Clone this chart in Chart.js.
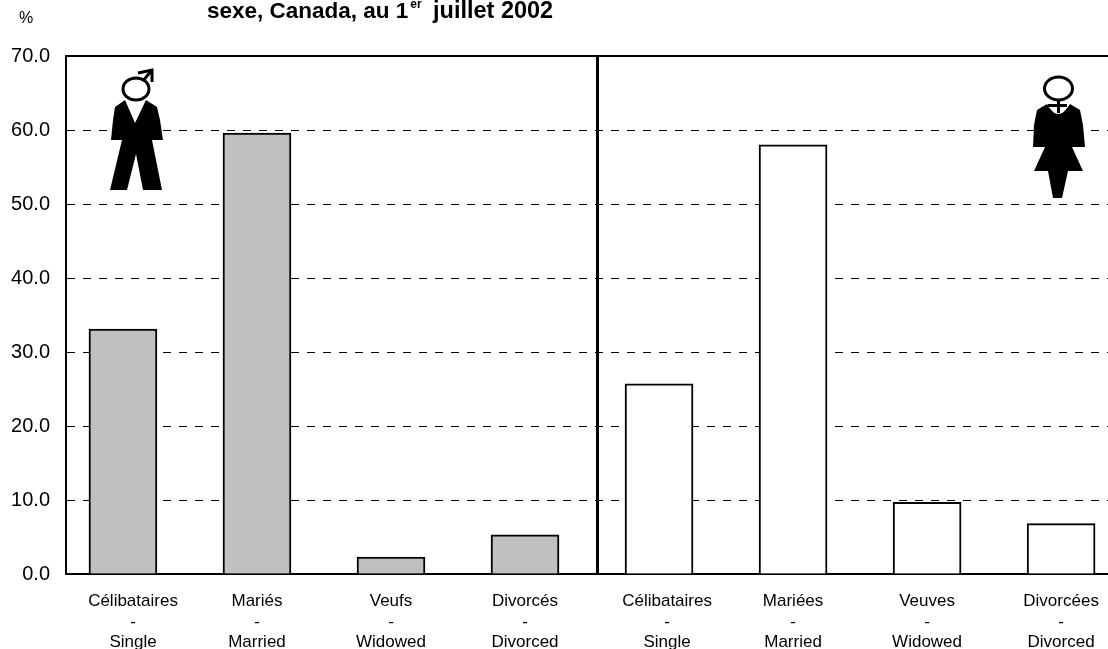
<!DOCTYPE html>
<html>
<head>
<meta charset="utf-8">
<style>
  html, body { margin: 0; padding: 0; background: #fff; overflow: hidden; }
  #box { position: relative; width: 1108px; height: 649px; }
</style>
<script src="https://cdn.jsdelivr.net/npm/chart.js@4/dist/chart.umd.min.js"></script>
</head>
<body>
<div id="box"><canvas id="chart" width="1108" height="649"></canvas></div>
<script>
const categories = [
  ["Célibataires", "-", "Single"],
  ["Mariés", "-", "Married"],
  ["Veufs", "-", "Widowed"],
  ["Divorcés", "-", "Divorced"],
  ["Célibataires", "-", "Single"],
  ["Mariées", "-", "Married"],
  ["Veuves", "-", "Widowed"],
  ["Divorcées", "-", "Divorced"],
];
const positions = [0, 1, 2, 3, 4, 5, 6, 7];
const values = [33.1, 59.6, 2.3, 5.3, 25.7, 58.0, 9.7, 6.8];
const barColors = ["#c0c0c0", "#c0c0c0", "#c0c0c0", "#c0c0c0", "#fff", "#fff", "#fff", "#fff"];
const yTicks = [0, 10, 20, 30, 40, 50, 60, 70];
// the two Célibataires labels sit a little right of their bars in the original
const labelTicks = [0.075, 1, 2, 3, 4.06, 5, 6, 7];
const FONT = "Liberation Sans";

// divider, % sign, title and the two figures
const extras = {
  id: "extras",
  afterDatasetsDraw(chart) {
    const c = chart.ctx, a = chart.chartArea;
    c.save();
    c.strokeStyle = "#000";
    c.lineWidth = 3;
    c.beginPath();
    c.moveTo(597.5, a.top);
    c.lineTo(597.5, a.bottom);
    c.stroke();

    c.fillStyle = "#000";
    c.textBaseline = "alphabetic";
    c.font = "16px '" + FONT + "'";
    c.fillText("%", 19, 23);
    c.font = "bold 22.5px '" + FONT + "'";
    c.fillText("sexe, Canada, au 1", 207, 18);
    const w = c.measureText("sexe, Canada, au 1").width;
    c.font = "bold 12px '" + FONT + "'";
    c.fillText("er", 207 + w + 2, 8);
    c.font = "bold 23.5px '" + FONT + "'";
    c.fillText("juillet 2002", 433, 18);

    man(c);
    woman(c);
    c.restore();
  },
};

function poly(c, pts) {
  c.beginPath();
  pts.forEach((p, i) => (i ? c.lineTo(p[0], p[1]) : c.moveTo(p[0], p[1])));
  c.closePath();
  c.fill();
}

function man(c) {
  c.lineWidth = 3;
  c.beginPath();
  c.ellipse(136, 89, 13, 11, 0, 0, Math.PI * 2);
  c.stroke();
  c.beginPath();
  c.moveTo(143, 81); c.lineTo(151, 71);
  c.moveTo(138, 73); c.lineTo(152, 70); c.lineTo(152, 82);
  c.stroke();
  poly(c, [[125, 100], [135, 123], [146, 100], [157, 107], [160, 120], [163, 140], [152, 140],
    [162, 190], [143, 190], [136, 154], [127, 190], [110, 190], [122, 140], [111, 140], [113, 120], [115, 107]]);
}

function woman(c) {
  c.beginPath();
  c.moveTo(1047, 104);
  c.quadraticCurveTo(1058, 124, 1070, 104);
  [[1080, 110], [1083, 125], [1085, 147], [1072, 147], [1083, 171], [1068, 171], [1062, 198], [1053, 198],
    [1048, 171], [1034, 171], [1045, 147], [1033, 147], [1034, 125], [1037, 110]].forEach((p) => c.lineTo(p[0], p[1]));
  c.closePath();
  c.fill();
  c.lineWidth = 3;
  c.beginPath();
  c.ellipse(1058.5, 88.5, 14, 11.5, 0, 0, Math.PI * 2);
  c.stroke();
  c.beginPath();
  c.moveTo(1058.5, 100); c.lineTo(1058.5, 113);
  c.moveTo(1048, 105.5); c.lineTo(1067, 105.5);
  c.stroke();
}

new Chart(document.getElementById("chart"), {
  type: "bar",
  data: {
    datasets: [{
      data: positions.map((p, i) => ({ x: p, y: values[i] })),
      backgroundColor: barColors,
      borderColor: "#000",
      borderWidth: 2,
      barThickness: 68,
    }],
  },
  plugins: [extras],
  options: {
    responsive: false,
    animation: false,
    layout: { padding: { top: 56, left: 0, right: 0, bottom: 0 } },
    plugins: { legend: { display: false }, tooltip: { enabled: false } },
    scales: {
      x: {
        type: "linear",
        offset: false,
        bounds: "data",
        min: -0.425,
        max: 7.35,
        grid: { display: false, offset: false },
        border: { color: "#000", width: 2 },
        afterBuildTicks(axis) { axis.ticks = labelTicks.map((p) => ({ value: p })); },
        afterFit(axis) { axis.height = 75; axis.paddingLeft = 0; axis.paddingRight = 0; },
        ticks: {
          autoSkip: false,
          maxRotation: 0,
          padding: 9,
          color: "#000",
          font: { family: FONT, size: 17, lineHeight: 1.21 },
          callback: (v, i) => categories[i],
        },
      },
      y: {
        min: 0,
        max: 70,
        afterBuildTicks(axis) { axis.ticks = yTicks.map((v) => ({ value: v })); },
        grid: {
          color: "#000",
          drawTicks: false,
          lineWidth: (ctx) => (ctx.tick && ctx.tick.value === 70 ? 2 : 1),
        },
        border: {
          color: "#000",
          width: 2,
          dash: (ctx) => (ctx.tick && ctx.tick.value === 70 ? [] : [8, 8]),
        },
        ticks: {
          padding: 16,
          color: "#000",
          font: { family: FONT, size: 20 },
          callback: (v) => v.toFixed(1),
        },
        afterFit(axis) { axis.width = 66; axis.paddingTop = 0; axis.paddingBottom = 0; },
      },
    },
  },
});
</script>
</body>
</html>
